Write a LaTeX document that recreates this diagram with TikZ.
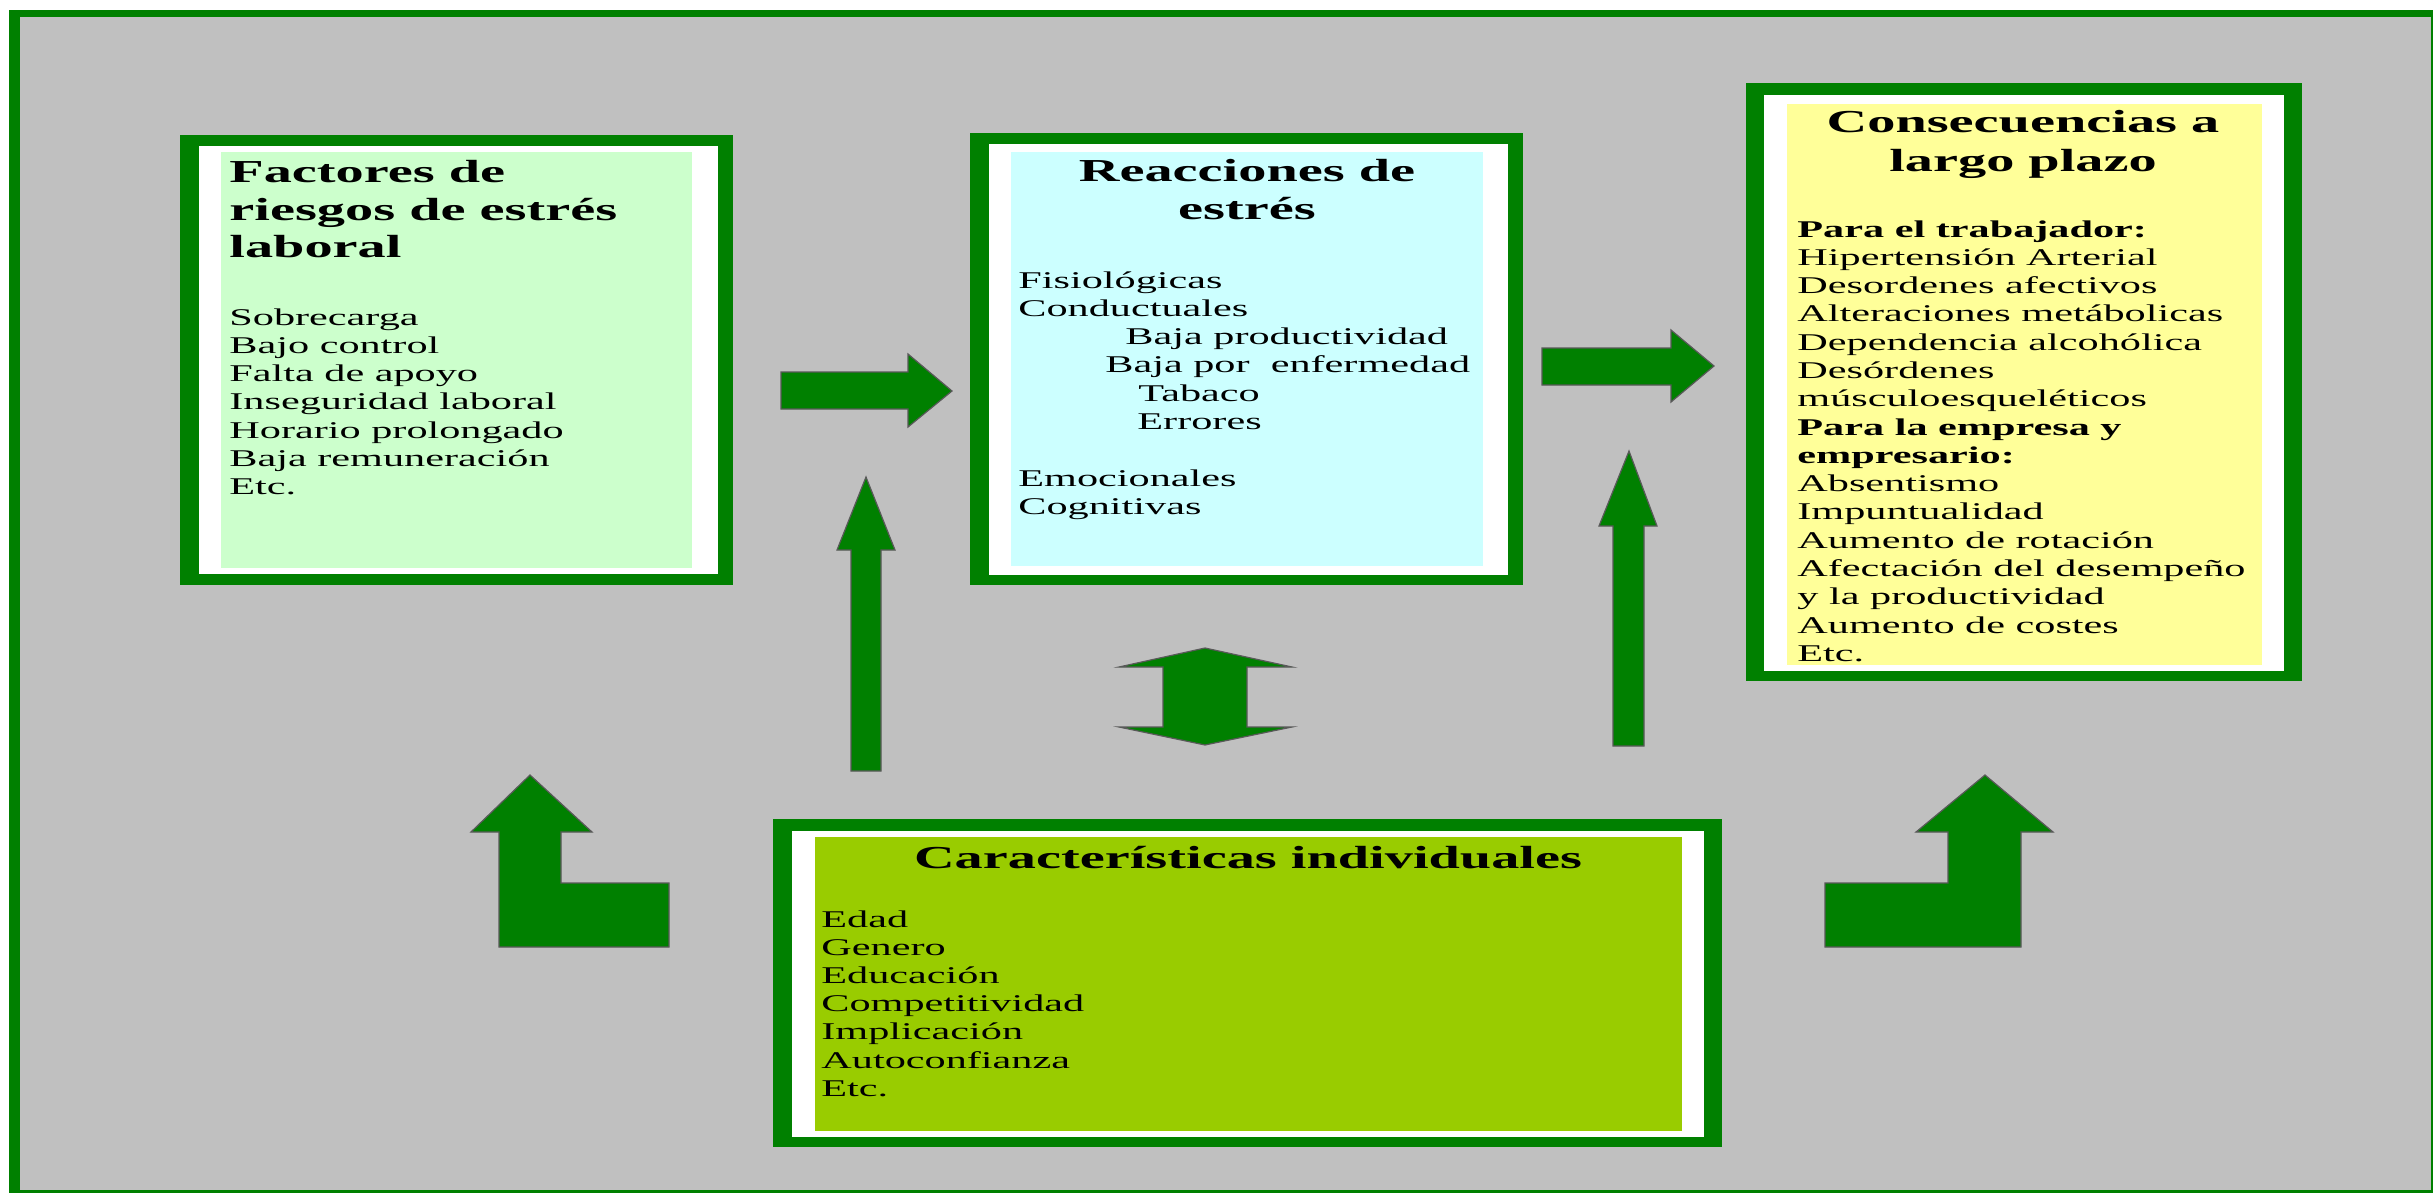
\documentclass[tikz,border=0pt]{standalone}
\usepackage{fontspec}
\setmainfont{Liberation Serif}[FakeStretch=1.76]
\definecolor{dkgreen}{RGB}{0,128,0}
\definecolor{bggray}{RGB}{192,192,192}
\definecolor{fillA}{RGB}{204,255,204}
\definecolor{fillB}{RGB}{204,255,255}
\definecolor{fillC}{RGB}{255,255,153}
\definecolor{fillD}{RGB}{153,204,0}
\newcommand\leftlines[1]{\begin{tabular}[t]{@{}l@{}}#1\end{tabular}}
\newcommand\midlines[1]{\begin{tabular}[t]{@{}c@{}}#1\end{tabular}}
\tikzset{
  blockarrow/.style={fill=dkgreen, draw=black!65, line width=0.6pt, line join=miter},
  titletext/.style={inner sep=0pt, font=\fontsize{16}{19}\selectfont\bfseries},
  bodytext/.style={inner sep=0pt, anchor=base west, font=\fontsize{12}{14.15}\selectfont},
}
\begin{document}
\begin{tikzpicture}[x=0.5pt, y=-0.5pt]
\useasboundingbox (0,0) rectangle (2433,1193);
% page and outer frame
\fill[white] (0,0) rectangle (2433,1193);
\fill[dkgreen] (9,10) rectangle (2433,1193);
\fill[bggray] (20,17) rectangle (2431,1190);

% box 1
\fill[dkgreen] (180,135) rectangle (733,585);
\fill[white] (199,146) rectangle (718,574);
\fill[fillA] (221,152) rectangle (692,568);
% box 2
\fill[dkgreen] (970,133) rectangle (1523,585);
\fill[white] (989,144) rectangle (1508,575);
\fill[fillB] (1011,152) rectangle (1483,566);
% box 3
\fill[dkgreen] (1746,83) rectangle (2302,681);
\fill[white] (1764,95) rectangle (2284,671);
\fill[fillC] (1787,104) rectangle (2262,665);
% box 4
\fill[dkgreen] (773,819) rectangle (1722,1147);
\fill[white] (792,831) rectangle (1704,1137);
\fill[fillD] (815,837) rectangle (1682,1131);

% texts
\node[titletext, anchor=base west, font=\fontsize{16}{18.75}\selectfont\bfseries] (t1) at (229,183)
  {\leftlines{Factores de\\riesgos de estrés\\laboral}};
\node[bodytext] (b1) at (229,325)
  {\leftlines{Sobrecarga\\Bajo control\\Falta de apoyo\\Inseguridad laboral\\Horario prolongado\\Baja remuneración\\Etc.}};

\node[titletext, anchor=base] (t2) at (1247,182)
  {\midlines{Reacciones de\\estrés}};
\node[bodytext] (b2) at (1018,288)
  {\leftlines{Fisiológicas\\Conductuales\\\hspace*{53.5pt}Baja productividad\\\hspace*{43.5pt}Baja por~ enfermedad\\\hspace*{60pt}Tabaco\\\hspace*{59.5pt}Errores\\ \\Emocionales\\Cognitivas}};

\node[titletext, anchor=base, font=\fontsize{16}{19.5}\selectfont\bfseries] (t3) at (2023,133)
  {\midlines{Consecuencias a\\largo plazo}};
\node[bodytext] (b3) at (1797,237)
  {\leftlines{\textbf{Para el trabajador:}\\Hipertensión Arterial\\Desordenes afectivos\\Alteraciones metábolicas\\Dependencia alcohólica\\Desórdenes\\músculoesqueléticos\\\textbf{Para la empresa y}\\\textbf{empresario:}\\Absentismo\\Impuntualidad\\Aumento de rotación\\Afectación del desempeño\\y la productividad\\Aumento de costes\\Etc.}};

\node[titletext, anchor=base] (t4) at (1248,868)
  {Características individuales};
\node[bodytext, font=\fontsize{12}{14.1}\selectfont] (b4) at (821,927)
  {\leftlines{Edad\\Genero\\Educación\\Competitividad\\Implicación\\Autoconfianza\\Etc.}};

% block arrows
\draw[blockarrow] (781,372) -- (908,372) -- (908,354) -- (952,391) -- (908,427) -- (908,409) -- (781,409) -- cycle;
\draw[blockarrow] (1542,348) -- (1671,348) -- (1671,330) -- (1714,366) -- (1671,402) -- (1671,385) -- (1542,385) -- cycle;
\draw[blockarrow] (866,477) -- (895,550) -- (881,550) -- (881,771) -- (851,771) -- (851,550) -- (837,550) -- cycle;
\draw[blockarrow] (1629,451) -- (1657,526) -- (1644,526) -- (1644,746) -- (1613,746) -- (1613,526) -- (1599,526) -- cycle;
\draw[blockarrow] (1205,648) -- (1292,667) -- (1247,667) -- (1247,727) -- (1292,727) -- (1205,745) -- (1119,727) -- (1163,727) -- (1163,667) -- (1119,667) -- cycle;
\draw[blockarrow] (530,775) -- (592,832) -- (561,832) -- (561,883) -- (669,883) -- (669,947) -- (499,947) -- (499,832) -- (471,832) -- cycle;
\draw[blockarrow] (1985,775) -- (2053,832) -- (2021,832) -- (2021,947) -- (1825,947) -- (1825,883) -- (1948,883) -- (1948,832) -- (1916,832) -- cycle;
\end{tikzpicture}
\end{document}
